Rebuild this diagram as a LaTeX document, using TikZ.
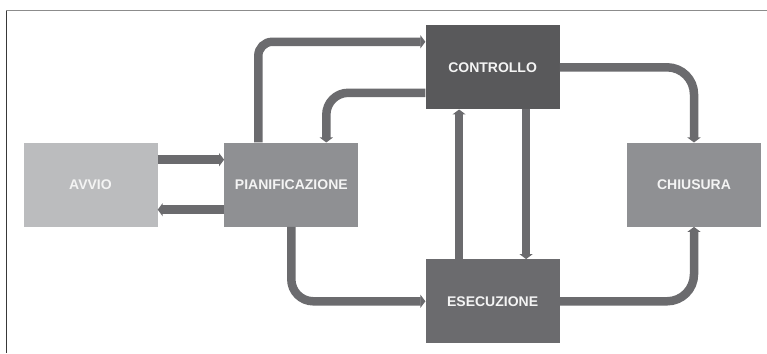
\documentclass[tikz,border=0pt]{standalone}
\usepackage{fontspec}
\setmainfont{Liberation Sans}
\usetikzlibrary{arrows.meta}
\definecolor{avviocol}{HTML}{BBBCBE}
\definecolor{midcol}{HTML}{8F9093}
\definecolor{ctrlcol}{HTML}{59595B}
\definecolor{esecol}{HTML}{6B6B6E}
\definecolor{arrcol}{HTML}{6B6B6E}
\definecolor{txtcol}{HTML}{F4F4F4}
\tikzset{
  phase/.style={minimum width=134pt, minimum height=84pt, inner sep=0pt, text=txtcol,
    font=\bfseries\fontsize{14}{16}\selectfont},
  flow/.style={draw=arrcol, line width=8.5pt, -{Triangle[width=13pt,length=5pt]}},
}
\begin{document}
\begin{tikzpicture}[x=1pt,y=1pt]
\useasboundingbox (0,0) rectangle (767,353);
\fill[white] (0,0) rectangle (767,353);
\draw[draw=black!45, line width=1.4pt] (6,342.3) -- (767,342.3);
\draw[draw=black!78, line width=1pt] (6,342.3) -- (6,0);

\node[phase, fill=avviocol] (avvio) at (90.5,168.3) {AVVIO};
\node[phase, fill=midcol] (pian) at (291.3,168.3) {PIANIFICAZIONE};
\node[phase, fill=ctrlcol] (ctrl) at (492.6,285.7) {CONTROLLO};
\node[phase, fill=esecol] (esec) at (492.6,51.7) {ESECUZIONE};
\node[phase, fill=midcol] (chius) at (694,168.3) {CHIUSURA};

\draw[flow] ([yshift=25pt]avvio.east) -- ([yshift=25pt]pian.west);
\draw[flow] ([yshift=-25pt]pian.west) -- ([yshift=-25pt]avvio.east);

\draw[flow, rounded corners=14pt] ([xshift=-33pt]pian.north) |- ([yshift=25.5pt]ctrl.west);
\draw[flow, rounded corners=22pt] ([yshift=-25.5pt]ctrl.west) -| ([xshift=35pt]pian.north);
\draw[flow, rounded corners=27pt] (ctrl.east) -| (chius.north);
\draw[flow, rounded corners=27pt] (esec.east) -| (chius.south);
\draw[flow, rounded corners=22pt] (pian.south) |- (esec.west);
\draw[flow] ([xshift=-33.5pt]esec.north) -- ([xshift=-33.5pt]ctrl.south);
\draw[flow] ([xshift=33.5pt]ctrl.south) -- ([xshift=33.5pt]esec.north);
\end{tikzpicture}
\end{document}
